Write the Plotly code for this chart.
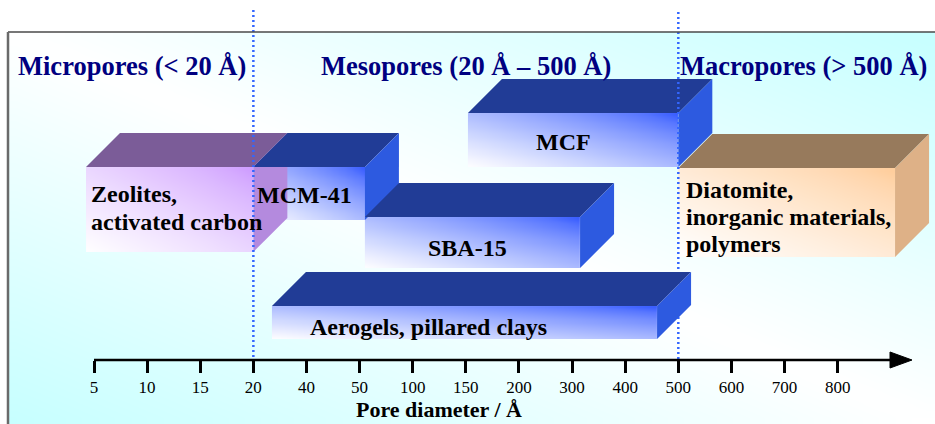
import numpy as np
import plotly.graph_objects as go

# Pore-diameter axis (Å); ticks are evenly spaced along the axis
tick_values = [5, 10, 15, 20, 40, 50, 100, 150, 200, 300, 400, 500, 600, 700, 800]
tick_labels = [str(v) for v in tick_values]

# Pore-size range covered by each material family (Å)
materials = ["Zeolites", "MCM-41", "SBA-15", "MCF", "Diatomite", "Aerogels"]
pore_min = [4.25, 20, 55, 152, 500, 27]
pore_max = [20, 55, 315, 500, 908, 460]

# Pore regimes (IUPAC limits, Å)
region_titles = ["Micropores (< 20 Å)", "Mesopores (20 Å – 500 Å)", "Macropores (> 500 Å)"]
region_limits = [20, 500]

# ---------------------------------------------------------------- layout
W, H = 935, 424
X0_PX, STEP_PX = 94.0, 53.12          # pixel of first tick, pixel spacing of ticks
FONT = "Liberation Serif"
NAVY = "#000080"


def xu(p):
    """horizontal pixel -> x-axis units"""
    return (p - X0_PX) / STEP_PX


tick_pos = np.arange(len(tick_values), dtype=float)


def axis_pos(d):
    """pore diameter -> position on the evenly spaced tick scale"""
    if d <= tick_values[0]:
        return (d - tick_values[0]) / (tick_values[1] - tick_values[0])
    if d >= tick_values[-1]:
        return tick_pos[-1] + (d - tick_values[-1]) / (tick_values[-1] - tick_values[-2])
    return float(np.interp(d, tick_values, tick_pos))


def hexrgb(h):
    h = h.lstrip("#")
    return tuple(int(h[k:k + 2], 16) for k in (0, 2, 4))


def fade_scale(corner):
    r, g, b = hexrgb(corner)
    stops = []
    for t in np.linspace(0, 1, 11):
        s = t ** 0.75
        c = [round(v * (1 - s) + 255 * s) for v in (r, g, b)]
        stops.append([float(t), f"rgb({c[0]},{c[1]},{c[2]})"])
    return stops


fig = go.Figure()

# panel background: soft cyan diagonal shading
PANEL_L, PANEL_T = 8, 32
nx, ny = 60, 30
bx = np.linspace(xu(PANEL_L), xu(W), nx + 1)
by = np.linspace(PANEL_T, H, ny + 1)
ucen = (np.arange(nx) + 0.5) / nx
vcen = (np.arange(ny) + 0.5) / ny
zbg = np.abs(ucen[None, :] - vcen[:, None])
fig.add_trace(go.Heatmap(x=bx, y=by, z=zbg, zmin=0, zmax=1, zsmooth="best",
                         colorscale=[[0, "#ffffff"], [1, "#c6ffff"]],
                         showscale=False, hoverinfo="skip"))

# box styling
BLUE = dict(front="#3358ff", top="#213c96", side="#2d5ae0")
PURPLE = dict(front="#cc99ff", top="#7b5c98", side="#b48ade")
TAN = dict(front="#ffcc99", top="#977a5c", side="#deb187")
palettes = [PURPLE, BLUE, BLUE, BLUE, TAN, BLUE]
box_top = [167, 167, 217, 113, 168, 306]
box_bottom = [252, 220, 268, 167, 257, 339]
DEPTH_PX = 34
DX = DEPTH_PX / STEP_PX


def add_box(i):
    x0, x1 = axis_pos(pore_min[i]), axis_pos(pore_max[i])
    top, bot = box_top[i], box_bottom[i]
    pal = palettes[i]
    # front face, shaded from the upper-right corner
    n1, n2 = 48, 16
    xe = np.linspace(x0, x1, n1 + 1)
    ye = np.linspace(top, bot, n2 + 1)
    u = (x1 - (xe[:-1] + xe[1:]) / 2) / (x1 - x0)
    w = ((ye[:-1] + ye[1:]) / 2 - top) / (bot - top)
    z = (u[None, :] + w[:, None]) / 2
    fig.add_trace(go.Heatmap(x=xe, y=ye, z=z, zmin=0, zmax=1, zsmooth="best",
                             colorscale=fade_scale(pal["front"]),
                             showscale=False, hoverinfo="skip"))
    # top face
    fig.add_trace(go.Scatter(x=[x0, x0 + DX, x1 + DX, x1, x0],
                             y=[top, top - DEPTH_PX, top - DEPTH_PX, top, top],
                             mode="lines", fill="toself", fillcolor=pal["top"],
                             line=dict(width=0), hoverinfo="skip"))
    # side face
    fig.add_trace(go.Scatter(x=[x1, x1 + DX, x1 + DX, x1, x1],
                             y=[top, top - DEPTH_PX, bot - DEPTH_PX, bot, top],
                             mode="lines", fill="toself", fillcolor=pal["side"],
                             line=dict(width=0), hoverinfo="skip"))


for i in range(5):
    add_box(i)

# regime boundaries
for lim, (ya, yb) in zip(region_limits, [(10, 360), (12, 366)]):
    p = axis_pos(lim)
    fig.add_trace(go.Scatter(x=[p, p], y=[ya, yb], mode="lines",
                             line=dict(color="#3366ff", width=2.5, dash="2px,3px"),
                             hoverinfo="skip"))

add_box(5)

# axis line with arrow head
AXIS_Y = 360
ax_end = xu(890)
ax_tip = xu(912)
fig.add_trace(go.Scatter(x=[tick_pos[0], ax_end], y=[AXIS_Y, AXIS_Y], mode="lines",
                         line=dict(color="black", width=2.5), hoverinfo="skip"))
fig.add_trace(go.Scatter(x=[ax_end, ax_tip, ax_end, ax_end],
                         y=[AXIS_Y - 8, AXIS_Y, AXIS_Y + 8, AXIS_Y - 8],
                         mode="lines", fill="toself", fillcolor="black",
                         line=dict(color="black", width=1), hoverinfo="skip"))

# panel frame
shapes = [
    dict(type="line", xref="x", yref="y", x0=xu(PANEL_L), x1=xu(W), y0=PANEL_T, y1=PANEL_T,
         line=dict(color="#4a4a4a", width=1.5), layer="above"),
    dict(type="line", xref="x", yref="y", x0=xu(PANEL_L), x1=xu(PANEL_L), y0=PANEL_T, y1=H,
         line=dict(color="#6a6a6a", width=2.5), layer="above"),
]

# text
ann = []


def label(text, xpx, ypx, size, color="black", anchor="left", bold=True):
    ann.append(dict(text=text, x=xu(xpx), y=ypx, xref="x", yref="y", xanchor=anchor,
                    yanchor="middle", showarrow=False, borderpad=0,
                    font=dict(family=FONT, size=size, color=color,
                              weight="bold" if bold else "normal")))


for t, xp in zip(region_titles, [17, 320, 679]):
    label(t, xp, 66, 26.5, NAVY)

label("Zeolites,", 90, 194, 24)
label("activated carbon", 90, 222, 24)
label(materials[1], 256, 195, 24)
label(materials[2], 467, 248, 24, anchor="center")
label(materials[3], 563, 142, 24, anchor="center")
label("Diatomite,", 685, 190, 24)
label("inorganic materials,", 685, 217, 24)
label("polymers", 685, 244, 24)
label("Aerogels, pillared clays", 309, 327, 24)
label("Pore diameter / Å", 355, 409, 22)

fig.update_layout(
    width=W, height=H, margin=dict(l=0, r=0, t=0, b=0),
    paper_bgcolor="white", plot_bgcolor="white", showlegend=False,
    shapes=shapes, annotations=ann,
    xaxis=dict(range=[xu(0), xu(W)], anchor="free", position=(H - AXIS_Y) / H,
               tickmode="array", tickvals=tick_pos, ticktext=tick_labels,
               ticks="outside", ticklen=12, tickwidth=2.5, tickcolor="black",
               tickfont=dict(family=FONT, size=17, color="black"),
               showline=False, showgrid=False, zeroline=False, fixedrange=True),
    yaxis=dict(range=[H, 0], visible=False, fixedrange=True),
)

fig.write_html("out.html")
